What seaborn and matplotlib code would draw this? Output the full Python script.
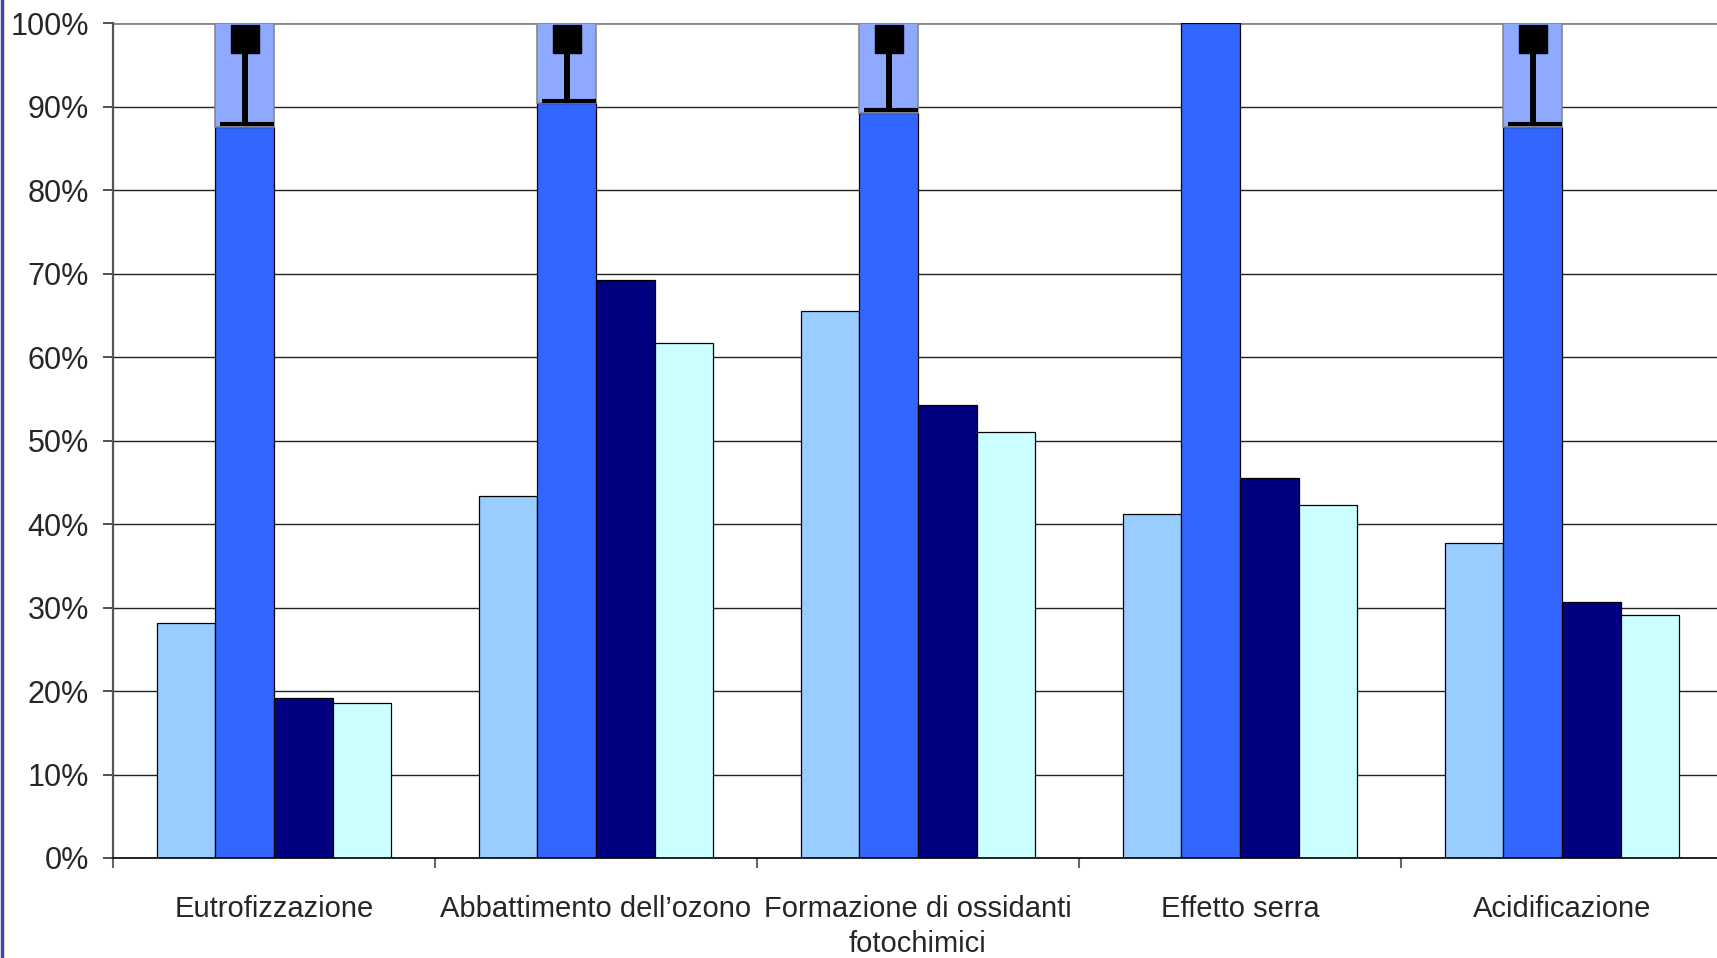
import pandas as pd
import matplotlib
matplotlib.use("Agg")
import matplotlib.pyplot as plt
import seaborn as sns
from matplotlib.lines import Line2D

# Categories and series values (percent)
categories = ["Eutrofizzazione", "Abbattimento dell’ozono",
              "Formazione di ossidanti\nfotochimici", "Effetto serra", "Acidificazione"]
series_names = ["Serie 1", "Serie 2", "Serie 3", "Serie 4"]
serie1 = [28.1, 43.4, 65.5, 41.2, 37.7]
serie2 = [87.6, 90.4, 89.3, 100.0, 87.6]
serie3 = [19.2, 69.2, 54.3, 45.5, 30.7]
serie4 = [18.6, 61.7, 51.0, 42.3, 29.1]
# lower end of the marker drawn on top of the second series (None = no marker)
marker_low = [87.9, 90.7, 89.6, None, 87.9]
y_ticks = [0, 10, 20, 30, 40, 50, 60, 70, 80, 90, 100]

colors = ["#99CCFF", "#3366FF", "#000080", "#CCFFFF"]
overlay_color = "#8FA9FF"

rows = []
for name, vals in zip(series_names, [serie1, serie2, serie3, serie4]):
    for cat, v in zip(categories, vals):
        rows.append({"categoria": cat, "serie": name, "valore": v})
df = pd.DataFrame(rows)

sns.set_style("white")
plt.rcParams["font.family"] = ["Liberation Sans", "DejaVu Sans"]

fig = plt.figure(figsize=(17.17, 9.58), dpi=100)
ax = fig.add_axes([0.0658, 0.1044, 0.9377, 0.8713])

sns.barplot(data=df, x="categoria", y="valore", hue="serie", order=categories,
            hue_order=series_names, palette=colors, saturation=1, width=0.727,
            edgecolor="black", linewidth=0.9, legend=False, ax=ax, zorder=2)

# light overlay + marker on top of the second series
for bar, low in zip(ax.containers[1], marker_low):
    if low is None:
        continue
    x, w, h = bar.get_x(), bar.get_width(), bar.get_height()
    ax.bar(x, 100 - h, bottom=h, width=w, align="edge", color=overlay_color,
           edgecolor="#888888", linewidth=1.2, zorder=3)
    cx = x + w / 2
    ax.vlines(cx, low, 98.2, color="black", linewidth=4.3, zorder=4)
    ax.hlines(low, x + w * 0.07, x + w, color="black", linewidth=3, zorder=4)
    ax.plot([cx], [98.15], marker="s", markersize=20, color="black",
            linestyle="none", zorder=5)

ax.set_ylim(0, 100)
ax.set_xlim(-0.5, len(categories) - 0.5)
ax.set_yticks(y_ticks)
ax.set_yticklabels([f"{t}%" for t in y_ticks])
ax.set_xticks(range(len(categories)))
ax.set_xticklabels(categories, linespacing=1.3)
ax.set_xticks([i - 0.5 for i in range(len(categories) + 1)], minor=True)
ax.set_xlabel("")
ax.set_ylabel("")

ax.yaxis.grid(True, color="#222222", linewidth=1.0, zorder=0)
ax.set_axisbelow(True)
ax.axhline(100, color="#888888", linewidth=2, zorder=1)

ax.tick_params(axis="y", labelsize=22, length=7.2, width=1.2, color="#333333",
               pad=10, left=True)
ax.tick_params(axis="x", which="major", labelsize=21, length=0, pad=27)
ax.tick_params(axis="x", which="minor", length=7.2, width=1.5, color="#666666",
               bottom=True)

for side in ["top", "right"]:
    ax.spines[side].set_visible(False)
ax.spines["left"].set_color("#555555")
ax.spines["left"].set_linewidth(1.6)
ax.spines["bottom"].set_color("black")
ax.spines["bottom"].set_linewidth(1.2)

# slide border on the left edge
fig.add_artist(Line2D([0.0009, 0.0009], [0, 1], color="#4444AA", linewidth=2.5,
                      transform=fig.transFigure))

fig.savefig("out.png", dpi=100, facecolor="white")
